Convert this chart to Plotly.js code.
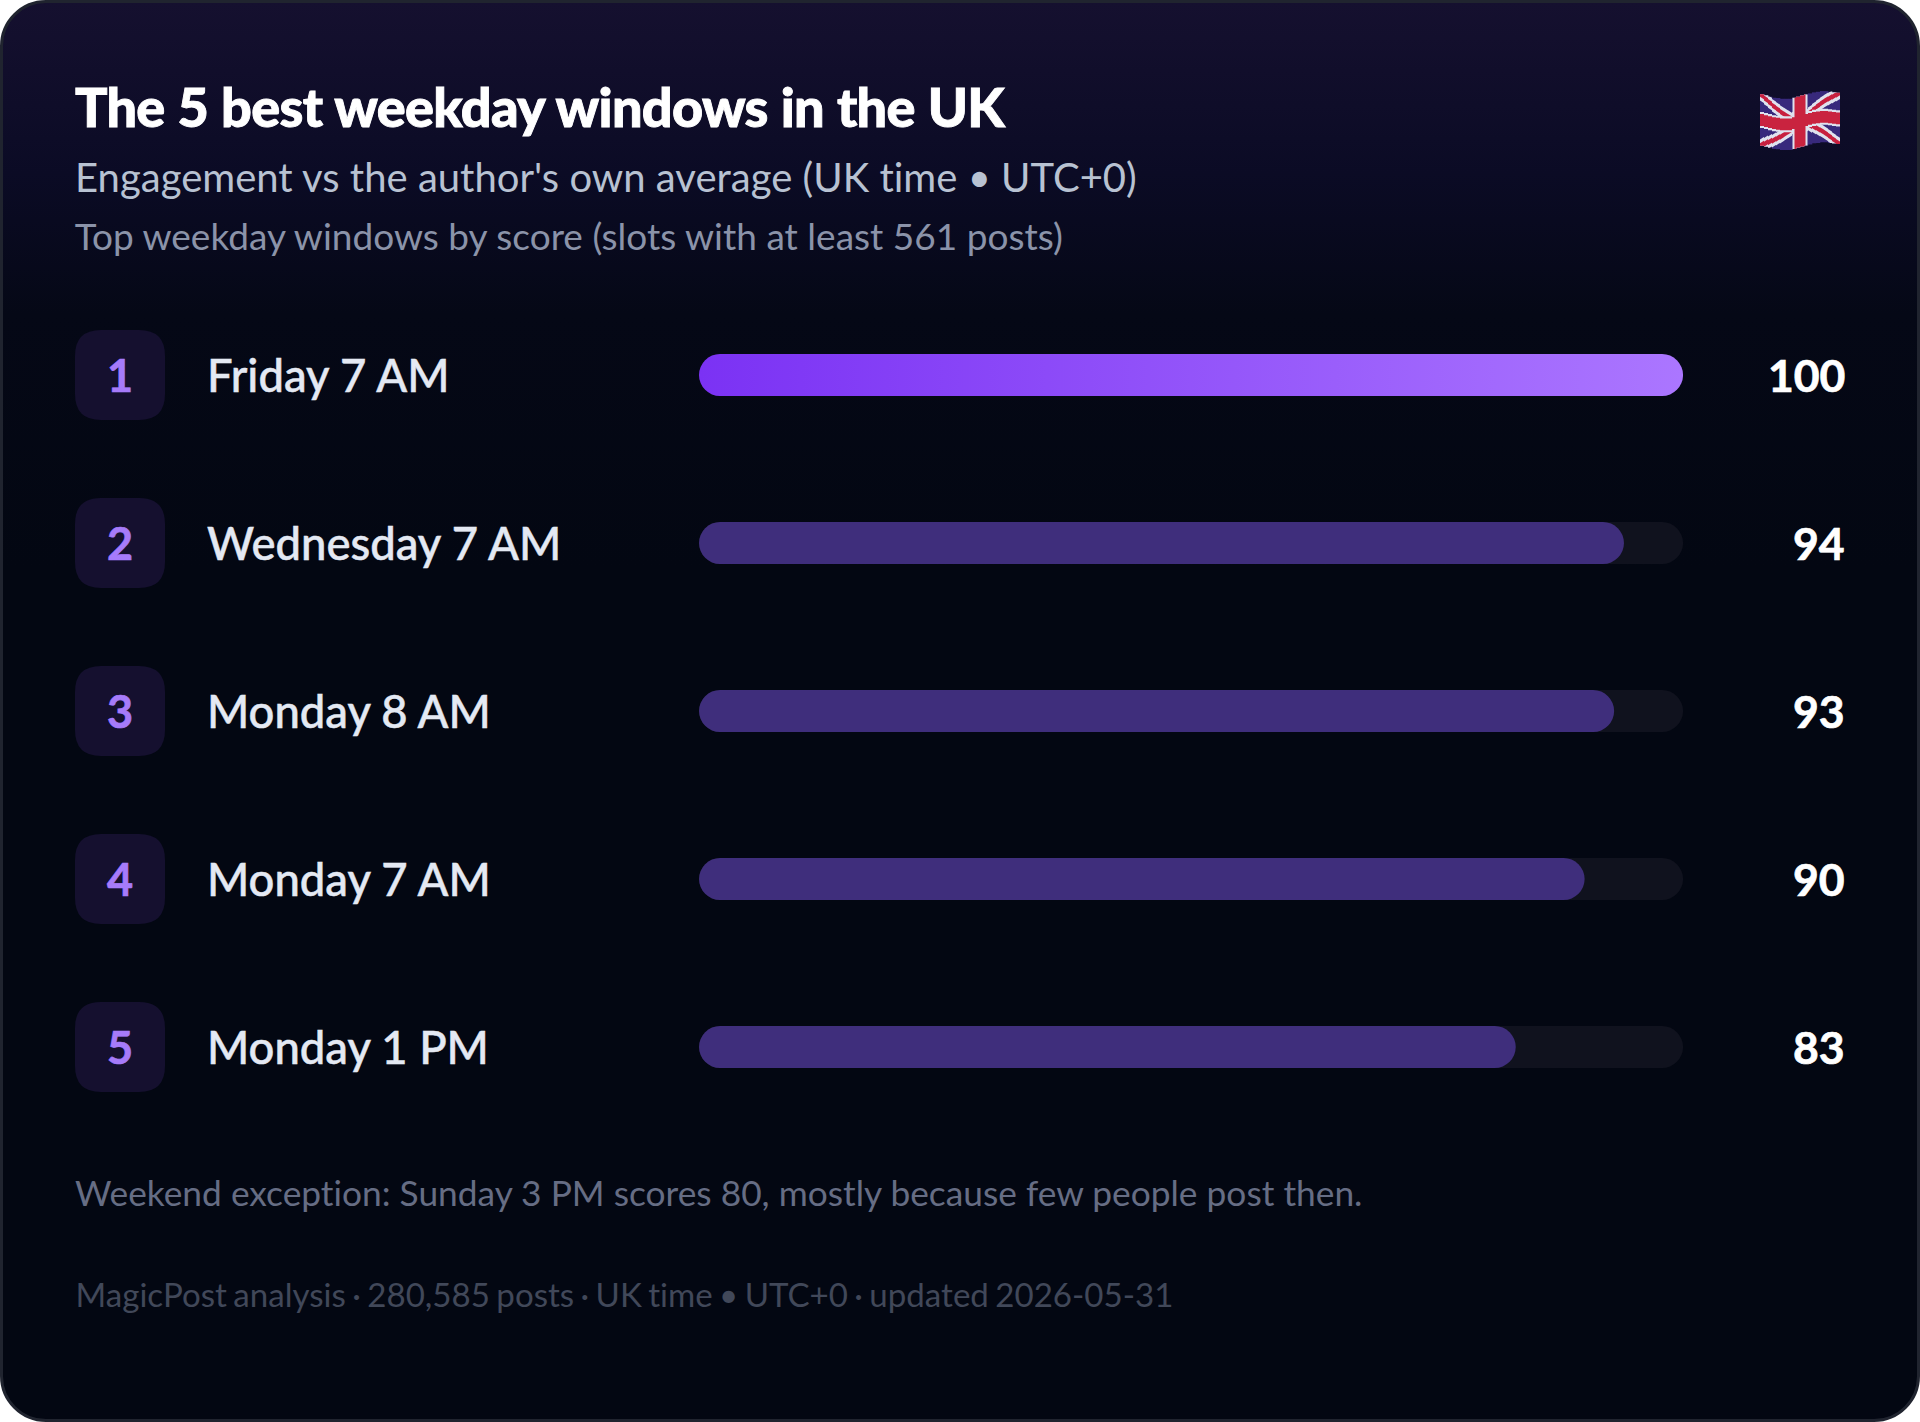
<!DOCTYPE html>
<html>
<head>
<meta charset="utf-8">
<title>Best weekday windows UK</title>
<script src="https://cdn.plot.ly/plotly-3.0.1.min.js"></script>
<style>
  html, body { margin: 0; padding: 0; background: #ffffff; overflow: hidden; }
  #card {
    width: 1920px; height: 1422px; box-sizing: border-box;
    border: 3px solid #20242f; border-radius: 46px; overflow: hidden;
    background: linear-gradient(180deg, #15102f 0%, #0b0b25 12%, #050816 22%, #030712 40%, #030712 100%);
  }
  #chart { position: absolute; left: 0; top: 0; width: 1920px; height: 1422px; }
  #chart .annotation-text { font-feature-settings: "liga" 0, "clig" 0; letter-spacing: 0.01px; }
  #chart .gtitle { letter-spacing: -0.7px; word-spacing: 0.8px; stroke: #ffffff; stroke-width: 0.9px; }
</style>
</head>
<body>
<div id="card"></div>
<div id="chart"></div>
<script>
var ranks = ["1", "2", "3", "4", "5"];
var windows = ["Friday 7 AM", "Wednesday 7 AM", "Monday 8 AM", "Monday 7 AM", "Monday 1 PM"];
var scores = [100, 94, 93, 90, 83];
var trackValues = [100, 100, 100, 100, 100];

var titleText = "The 5 best weekday windows in the UK";
var subtitleText = "Engagement vs the author's own average (UK time \u2022 UTC+0)";
var subtitle2Text = "Top weekday windows by score (slots with at least 561 posts)";
var noteText = "Weekend exception: Sunday 3 PM scores 80, mostly because few people post then.";
var footerText = "MagicPost analysis \u00b7 280,585 posts \u00b7 UK time \u2022 UTC+0 \u00b7 updated 2026-05-31";

var W = 1920, H = 1422;
var plotL = 699, plotR = 1683, plotT = 291, plotB = 1131;
var barRadius = 21;
// a bar with a non zero base gets its corners rounded on both ends
var barBase = 0.001;

function px(x) { return (x - plotL) / (plotR - plotL); }
function py(y) { return (plotB - y) / (plotB - plotT); }

function textAt(x, y, text, size, color, weight, anchor) {
  return {
    xref: "paper", yref: "paper", x: px(x), y: py(y), text: text,
    showarrow: false, xanchor: anchor || "left", yanchor: "middle",
    font: { family: "Lato", size: size, color: color, weight: weight || 400 }
  };
}

function roundRect(x0, y0, x1, y1, r) {
  return "M" + px(x0 + r) + "," + py(y0) +
    " L" + px(x1 - r) + "," + py(y0) +
    " Q" + px(x1) + "," + py(y0) + " " + px(x1) + "," + py(y0 + r) +
    " L" + px(x1) + "," + py(y1 - r) +
    " Q" + px(x1) + "," + py(y1) + " " + px(x1 - r) + "," + py(y1) +
    " L" + px(x0 + r) + "," + py(y1) +
    " Q" + px(x0) + "," + py(y1) + " " + px(x0) + "," + py(y1 - r) +
    " L" + px(x0) + "," + py(y0 + r) +
    " Q" + px(x0) + "," + py(y0) + " " + px(x0 + r) + "," + py(y0) + " Z";
}

// union jack, cut in slices so it waves a bit
function flagSvg() {
  var art =
    '<rect width="80" height="48" fill="#38297c"/>' +
    '<path d="M0,0 L80,48 M80,0 L0,48" stroke="#dfe2ee" stroke-width="10"/>' +
    '<path d="M0,0 L80,48 M80,0 L0,48" stroke="#c8203f" stroke-width="4"/>' +
    '<path d="M40,0 V48 M0,24 H80" stroke="#dfe2ee" stroke-width="15"/>' +
    '<path d="M40,0 V48 M0,24 H80" stroke="#c9233f" stroke-width="11"/>';
  var offsets = [0, 1, 2, 3, 3.5, 4, 4, 4, 3, 2, 1, 0, -1, -2, -2.5, -3, -3, -2.5, -2, -1.5];
  var out = '<svg xmlns="http://www.w3.org/2000/svg" xmlns:xlink="http://www.w3.org/1999/xlink" width="80" height="56" viewBox="0 0 80 56"><defs><g id="f">' + art + '</g></defs>';
  offsets.forEach(function(o, i) {
    out += '<svg x="' + (i * 4) + '" y="' + (4 + o) + '" width="4.3" height="48" viewBox="' + (i * 4) + ' 0 4.3 48"><use xlink:href="#f"/></svg>';
  });
  return "data:image/svg+xml;base64," + btoa(out + "</svg>");
}

var shapes = [];
var annotations = [
  textAt(73, 177, subtitleText, 40, "#b8c2d2", 400),
  textAt(73, 235, subtitle2Text, 37, "#8b93a9", 400),
  textAt(73, 1192, noteText, 35.3, "#666d84", 400),
  textAt(60.7, 1294, footerText, 33.1, "#414859", 400)
];

windows.forEach(function(name, i) {
  var cy = 374.5 + i * 168;
  shapes.push({
    type: "path", xref: "paper", yref: "paper", layer: "below",
    path: roundRect(75, cy - 44.5, 165, cy + 45.5, 26),
    fillcolor: "#15102f", line: { width: 0 }
  });
  annotations.push(textAt(120, cy, ranks[i], 45, "#a67bfa", 700, "center"));
  annotations.push(textAt(204.5, cy, name, 45.4, "#e4e9f3", 500));
  annotations.push(textAt(1847, cy, String(scores[i]), 44.5, "#ffffff", 700, "right"));
});

var traces = [
  {
    type: "bar", orientation: "h", y: windows, x: trackValues, base: barBase,
    marker: { color: "#10121e", line: { width: 0 } },
    hoverinfo: "skip", cliponaxis: false
  },
  {
    type: "bar", orientation: "h", y: windows, x: scores, base: barBase,
    marker: { color: "#3f2e7c", line: { width: 0 } },
    hoverinfo: "skip", cliponaxis: false
  }
];

var layout = {
  width: W, height: H,
  paper_bgcolor: "rgba(0,0,0,0)", plot_bgcolor: "rgba(0,0,0,0)",
  margin: { l: plotL, r: W - plotR, t: plotT, b: H - plotB, pad: 0 },
  barmode: "overlay", bargap: 0.75, barcornerradius: barRadius,
  showlegend: false,
  title: {
    text: titleText, xref: "container", yref: "container",
    x: 75 / W, xanchor: "left", y: 1 - 108 / H, yanchor: "middle",
    font: { family: "Lato", size: 54, color: "#ffffff", weight: 900 }
  },
  xaxis: { range: [0, 100], visible: false, fixedrange: true },
  yaxis: { type: "category", autorange: "reversed", visible: false, fixedrange: true },
  shapes: shapes,
  annotations: annotations,
  images: [{
    source: flagSvg(), xref: "paper", yref: "paper", layer: "above",
    x: px(1760), y: py(90), sizex: px(1840) - px(1760), sizey: py(90) - py(150),
    sizing: "stretch", xanchor: "left", yanchor: "top"
  }]
};

// top bar gets the purple gradient, plotly bars only do flat colours
function paintTopBar(gd) {
  var svg = gd.querySelector(".main-svg");
  var ns = "http://www.w3.org/2000/svg";
  var grad = document.createElementNS(ns, "linearGradient");
  grad.setAttribute("id", "topBarGrad");
  [["0%", "#7b32f4"], ["100%", "#ab76ff"]].forEach(function(s) {
    var stop = document.createElementNS(ns, "stop");
    stop.setAttribute("offset", s[0]);
    stop.setAttribute("stop-color", s[1]);
    grad.appendChild(stop);
  });
  svg.querySelector("defs").appendChild(grad);
  var bars = gd.querySelectorAll(".barlayer .trace")[1].querySelectorAll(".point path");
  bars[0].style.fill = "url(#topBarGrad)";
}

// only regular and bold of Lato here, thicken the row text with a thin stroke
function tuneText(gd) {
  gd.querySelectorAll(".annotation-text").forEach(function(t) {
    var label = t.textContent;
    if (-1 !== windows.indexOf(label)) {
      t.style.stroke = "#e4e9f3";
      t.style.strokeWidth = "0.5px";
    } else if (/^\d+$/.test(label)) {
      t.style.stroke = t.style.fill;
      t.style.strokeWidth = "0.7px";
    } else if (label === footerText) {
      t.style.wordSpacing = "-2.1px";
    }
  });
}

Plotly.newPlot("chart", traces, layout, { displayModeBar: false, responsive: false, staticPlot: true }).then(function(gd) {
  paintTopBar(gd);
  tuneText(gd);
});
</script>
</body>
</html>
